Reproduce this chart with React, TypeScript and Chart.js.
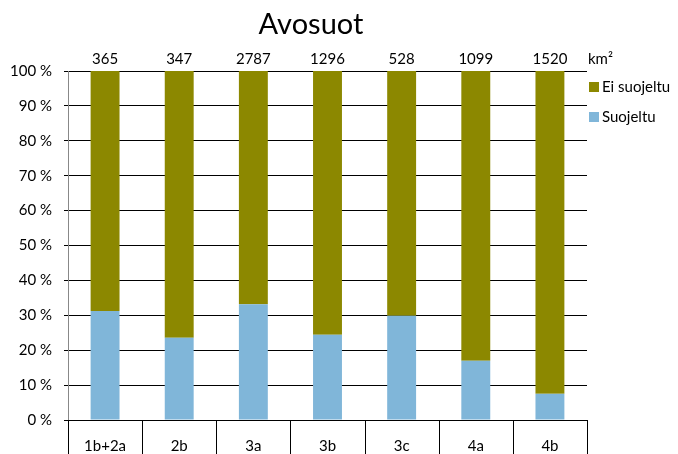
import React, { useEffect, useRef } from "react";
import { Chart, registerables } from "chart.js";

Chart.register(...registerables);

const categories = ["1b+2a", "2b", "3a", "3b", "3c", "4a", "4b"];
const suojeltu = [31.2, 23.6, 33.2, 24.4, 29.9, 17.0, 7.5];
const eiSuojeltu = [68.8, 76.4, 66.8, 75.6, 70.1, 83.0, 92.5];
const totals = ["365", "347", "2787", "1296", "528", "1099", "1520"];
const yTicks = [0, 10, 20, 30, 40, 50, 60, 70, 80, 90, 100];

const FONT = "Lato, 'Open Sans', sans-serif";
const OLIVE = "#8c8800";
const BLUE = "#80b6d9";

export default function App() {
  const ref = useRef<HTMLCanvasElement | null>(null);

  useEffect(() => {
    document.body.style.margin = "0";
    const canvas = ref.current;
    if (!canvas) return;

    const extras = {
      id: "extras",
      afterDraw(chart: any) {
        const ctx = chart.ctx;
        const area = chart.chartArea;
        const xs = chart.scales.x;
        ctx.save();
        // Title
        ctx.fillStyle = "#000";
        ctx.font = `29px ${FONT}`;
        ctx.textAlign = "center";
        ctx.textBaseline = "alphabetic";
        ctx.fillText("Avosuot", 311, 34);
        // totals above bars
        ctx.font = `15px ${FONT}`;
        ctx.textBaseline = "alphabetic";
        totals.forEach((t, i) => {
          ctx.fillText(t, xs.getPixelForValue(i), area.top - 7);
        });
        ctx.textAlign = "left";
        ctx.fillText("km²", area.right + 1, area.top - 7);
        // category separators
        ctx.strokeStyle = "#000";
        ctx.lineWidth = 1;
        const n = categories.length;
        const w = (area.right - area.left) / n;
        for (let i = 0; i <= n; i++) {
          const x = Math.round(area.left + i * w) + 0.5;
          ctx.beginPath();
          ctx.moveTo(x, area.bottom);
          ctx.lineTo(x, chart.height);
          ctx.stroke();
        }
        // legend
        const items = [
          { label: "Ei suojeltu", color: OLIVE },
          { label: "Suojeltu", color: BLUE },
        ];
        ctx.font = `15px ${FONT}`;
        ctx.textBaseline = "middle";
        items.forEach((it, i) => {
          const y = area.top + 16 + i * 30;
          ctx.fillStyle = it.color;
          ctx.fillRect(area.right + 2, y - 5, 10, 10);
          ctx.fillStyle = "#000";
          ctx.fillText(it.label, area.right + 15, y);
        });
        ctx.restore();
      },
    };

    const chart = new Chart(canvas, {
      type: "bar",
      data: {
        labels: categories,
        datasets: [
          {
            label: "Suojeltu",
            data: suojeltu,
            backgroundColor: BLUE,
            borderWidth: 0,
          },
          {
            label: "Ei suojeltu",
            data: eiSuojeltu,
            backgroundColor: OLIVE,
            borderWidth: 0,
          },
        ],
      },
      options: {
        responsive: false,
        animation: false,
        layout: { padding: { top: 71, right: 91, left: 0, bottom: 0 } },
        plugins: {
          legend: { display: false },
          title: { display: false },
          tooltip: { enabled: false },
        },
        datasets: {
          bar: { categoryPercentage: 1, barPercentage: 0.39 },
        },
        scales: {
          x: {
            stacked: true,
            offset: true,
            grid: { display: false },
            border: { display: true, color: "#000", width: 1 },
            ticks: {
              color: "#000",
              font: { family: FONT, size: 15 },
              padding: 9,
            },
            afterFit(scale: any) {
              scale.height = 34;
            },
          },
          y: {
            stacked: true,
            min: 0,
            max: 100,
            afterBuildTicks(scale: any) {
              scale.ticks = yTicks.map((v) => ({ value: v }));
            },
            grid: {
              color: "#000",
              lineWidth: 1,
              drawTicks: true,
              tickLength: 4,
            },
            border: { display: true, color: "#888", width: 1 },
            ticks: {
              color: "#000",
              font: { family: FONT, size: 15 },
              padding: 12,
              callback: (v: any) => `${v} %`,
            },
            afterFit(scale: any) {
              scale.width = 68;
            },
          },
        },
      },
      plugins: [extras],
    });
    return () => chart.destroy();
  }, []);

  return (
    <div style={{ position: "absolute", left: 0, top: 0 }}>
      <canvas ref={ref} width={678} height={454} />
    </div>
  );
}
